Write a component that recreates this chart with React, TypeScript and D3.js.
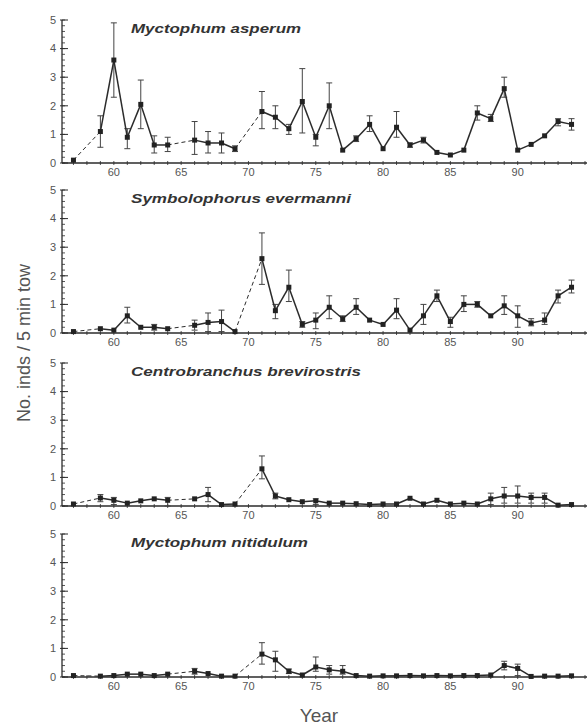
import React from 'react';
import * as d3 from 'd3';

const years = d3.range(57, 95);

// null = no sample that year (joined by a dashed line)
const asperumMean = [0.1, null, 1.1, 3.6, 0.9, 2.05, 0.63, 0.63, null, 0.8, 0.7, 0.7, 0.5, null, 1.8, 1.6, 1.2, 2.15, 0.9, 2.0, 0.45, 0.85, 1.35, 0.5, 1.25, 0.63, 0.8, 0.37, 0.28, 0.45, 1.75, 1.55, 2.6, 0.45, 0.65, 0.95, 1.45, 1.35];
const asperumHi = [0.15, null, 1.65, 4.9, 1.2, 2.9, 0.95, 0.9, null, 1.45, 1.1, 1.05, 0.6, null, 2.5, 2.0, 1.35, 3.3, 1.0, 2.8, 0.5, 0.95, 1.65, 0.55, 1.8, 0.7, 0.9, 0.42, 0.32, 0.5, 2.0, 1.7, 3.0, 0.5, 0.7, 1.0, 1.55, 1.55];
const asperumLo = [0.05, null, 0.55, 2.3, 0.5, 1.2, 0.35, 0.4, null, 0.3, 0.35, 0.35, 0.4, null, 1.2, 1.2, 1.0, 1.05, 0.6, 1.2, 0.4, 0.75, 1.1, 0.45, 0.9, 0.55, 0.7, 0.32, 0.24, 0.4, 1.5, 1.45, 2.3, 0.4, 0.6, 0.9, 1.3, 1.15];

const evermanniMean = [0.05, null, 0.15, 0.1, 0.6, 0.2, 0.2, 0.15, null, 0.27, 0.37, 0.4, 0.05, null, 2.6, 0.78, 1.6, 0.3, 0.45, 0.9, 0.5, 0.9, 0.45, 0.3, 0.8, 0.1, 0.6, 1.3, 0.4, 1.0, 1.0, 0.6, 0.95, 0.6, 0.35, 0.45, 1.3, 1.6];
const evermanniHi = [0.08, null, 0.2, 0.13, 0.9, 0.25, 0.3, 0.2, null, 0.45, 0.7, 0.8, 0.08, null, 3.5, 1.0, 2.2, 0.4, 0.7, 1.3, 0.6, 1.2, 0.5, 0.35, 1.2, 0.15, 1.0, 1.5, 0.55, 1.3, 1.1, 0.65, 1.3, 0.95, 0.5, 0.7, 1.5, 1.85];
const evermanniLo = [0.02, null, 0.1, 0.07, 0.35, 0.15, 0.1, 0.1, null, 0.1, 0.05, 0.05, 0.02, null, 1.7, 0.5, 1.1, 0.2, 0.15, 0.5, 0.4, 0.65, 0.4, 0.25, 0.5, 0.05, 0.3, 1.1, 0.2, 0.75, 0.9, 0.55, 0.65, 0.2, 0.25, 0.3, 1.05, 1.4];

const brevirostrisMean = [0.07, null, 0.28, 0.2, 0.1, 0.18, 0.25, 0.2, null, 0.25, 0.4, 0.05, 0.07, null, 1.3, 0.35, 0.22, 0.15, 0.18, 0.1, 0.1, 0.08, 0.05, 0.07, 0.07, 0.27, 0.07, 0.2, 0.07, 0.1, 0.07, 0.25, 0.35, 0.35, 0.3, 0.3, 0.03, 0.05];
const brevirostrisHi = [0.1, null, 0.4, 0.3, 0.13, 0.22, 0.3, 0.3, null, 0.3, 0.65, 0.08, 0.1, null, 1.75, 0.45, 0.28, 0.2, 0.25, 0.13, 0.12, 0.1, 0.07, 0.09, 0.09, 0.32, 0.09, 0.25, 0.09, 0.13, 0.09, 0.45, 0.65, 0.7, 0.45, 0.45, 0.05, 0.07];
const brevirostrisLo = [0.04, null, 0.15, 0.05, 0.07, 0.14, 0.2, 0.0, null, 0.2, 0.15, 0.02, 0.04, null, 0.95, 0.25, 0.16, 0.1, 0.05, 0.07, 0.08, 0.06, 0.03, 0.05, 0.05, 0.22, 0.05, 0.15, 0.05, 0.07, 0.05, 0.05, 0.1, 0.1, 0.1, 0.1, 0.01, 0.03];

const nitidulumMean = [0.05, null, 0.03, 0.05, 0.1, 0.1, 0.05, 0.1, null, 0.2, 0.12, 0.03, 0.03, null, 0.8, 0.6, 0.2, 0.07, 0.35, 0.25, 0.2, 0.05, 0.03, 0.04, 0.04, 0.05, 0.04, 0.05, 0.04, 0.05, 0.05, 0.07, 0.4, 0.3, 0.02, 0.03, 0.03, 0.04];
const nitidulumHi = [0.07, null, 0.05, 0.07, 0.13, 0.13, 0.07, 0.13, null, 0.3, 0.15, 0.05, 0.05, null, 1.2, 0.9, 0.28, 0.1, 0.7, 0.4, 0.4, 0.07, 0.05, 0.06, 0.06, 0.07, 0.06, 0.07, 0.06, 0.07, 0.07, 0.1, 0.55, 0.45, 0.04, 0.05, 0.05, 0.06];
const nitidulumLo = [0.03, null, 0.01, 0.03, 0.07, 0.07, 0.03, 0.07, null, 0.1, 0.09, 0.01, 0.01, null, 0.45, 0.2, 0.12, 0.04, 0.2, 0.1, 0.1, 0.03, 0.01, 0.02, 0.02, 0.03, 0.02, 0.03, 0.02, 0.03, 0.03, 0.04, 0.25, 0.05, 0.0, 0.01, 0.01, 0.02];

const speciesNames = ['Myctophum asperum', 'Symbolophorus evermanni', 'Centrobranchus brevirostris', 'Myctophum nitidulum'];
const means = [asperumMean, evermanniMean, brevirostrisMean, nitidulumMean];
const highs = [asperumHi, evermanniHi, brevirostrisHi, nitidulumHi];
const lows = [asperumLo, evermanniLo, brevirostrisLo, nitidulumLo];

const yTicks = [0, 1, 2, 3, 4, 5];
const xTickLabels = [60, 65, 70, 75, 80, 85, 90];

const W = 587;
const H = 726;
const ink = '#2b2b2b';
const font = '"Liberation Sans", Arial, sans-serif';

const x = d3.scaleLinear().domain([56, 95]).range([60, 585]);
const panelBottoms = [163, 333, 506, 677];
const panelHeight = 143;
// the scanned titles are set wide
const titleWidths = [170, 220, 230, 177];

function Panel({ idx }: { idx: number }) {
  const y0 = panelBottoms[idx];
  const y = d3.scaleLinear().domain([0, 5]).range([y0, y0 - panelHeight]);
  const m = means[idx];
  const hi = highs[idx];
  const lo = lows[idx];
  const pts = years
    .map((yr, i) => ({ yr, v: m[i], h: hi[i], l: lo[i] }))
    .filter(p => p.v !== null) as { yr: number; v: number; h: number; l: number }[];

  const segs = pts.slice(1).map((p, i) => ({ a: pts[i], b: p, gap: p.yr - pts[i].yr > 1 }));
  const minorY = d3.range(0, 5.01, 0.2);
  const axisX = x(56) + 2;

  return (
    <g>
      {/* y axis */}
      <line x1={axisX} x2={axisX} y1={y(5)} y2={y0} stroke={ink} strokeWidth={1.3} />
      {minorY.map(t => (
        <line key={'m' + t} x1={axisX} x2={axisX + 3} y1={y(t)} y2={y(t)} stroke={ink} strokeWidth={0.8} />
      ))}
      {yTicks.map(t => (
        <g key={t}>
          <line x1={axisX - 2} x2={axisX + 6} y1={y(t)} y2={y(t)} stroke={ink} strokeWidth={1} />
          <text x={axisX - 6} y={y(t)} dy="0.35em" textAnchor="end" fontSize={11} fill="#555" fontFamily={font}>{t}</text>
        </g>
      ))}
      {/* x axis */}
      <line x1={axisX} x2={W} y1={y0} y2={y0} stroke={ink} strokeWidth={1.3} />
      {d3.range(57, 96).map(t => (
        <line key={'xt' + t} x1={x(t)} x2={x(t)} y1={y0 - 2} y2={y0 + 2} stroke={ink} strokeWidth={0.8} />
      ))}
      {xTickLabels.map(t => (
        <text key={'xl' + t} x={x(t)} y={y0 + 13} textAnchor="middle" fontSize={11} fill="#555" fontFamily={font}>{t}</text>
      ))}
      {/* title */}
      <text x={131} y={y0 - panelHeight + 13} fontSize={12.5} fontWeight="bold" fontStyle="italic" fill="#333" fontFamily={font}
        textLength={titleWidths[idx]} lengthAdjust="spacingAndGlyphs">{speciesNames[idx]}</text>
      {/* error bars */}
      {pts.map(p => (
        <g key={'e' + p.yr} stroke="#444" strokeWidth={1}>
          <line x1={x(p.yr)} x2={x(p.yr)} y1={y(p.h)} y2={y(p.l)} />
          {y(p.l) - y(p.h) > 4 && (
            <>
              <line x1={x(p.yr) - 3} x2={x(p.yr) + 3} y1={y(p.h)} y2={y(p.h)} />
              <line x1={x(p.yr) - 3} x2={x(p.yr) + 3} y1={y(p.l)} y2={y(p.l)} />
            </>
          )}
        </g>
      ))}
      {/* connecting lines */}
      {segs.map(s => (
        <line key={'s' + s.b.yr} x1={x(s.a.yr)} y1={y(s.a.v)} x2={x(s.b.yr)} y2={y(s.b.v)}
          stroke={ink} strokeWidth={s.gap ? 1 : 1.5} strokeDasharray={s.gap ? '4,3' : undefined} />
      ))}
      {/* markers */}
      {pts.map(p => (
        <rect key={'p' + p.yr} x={x(p.yr) - 2.5} y={y(p.v) - 2.5} width={5} height={5} fill="#222" />
      ))}
    </g>
  );
}

export default function App() {
  return (
    <svg width={W} height={H} style={{ position: 'absolute', left: 0, top: 0, background: '#fff' }}>
      <rect width={W} height={H} fill="#fff" />
      {[0, 1, 2, 3].map(i => <Panel key={i} idx={i} />)}
      <text transform="translate(30,343) rotate(-90)" textAnchor="middle" fontSize={18} fill="#555" fontFamily={font}>No. inds / 5 min tow</text>
      <text x={319} y={722} textAnchor="middle" fontSize={19} fill="#555" fontFamily={font}>Year</text>
    </svg>
  );
}
